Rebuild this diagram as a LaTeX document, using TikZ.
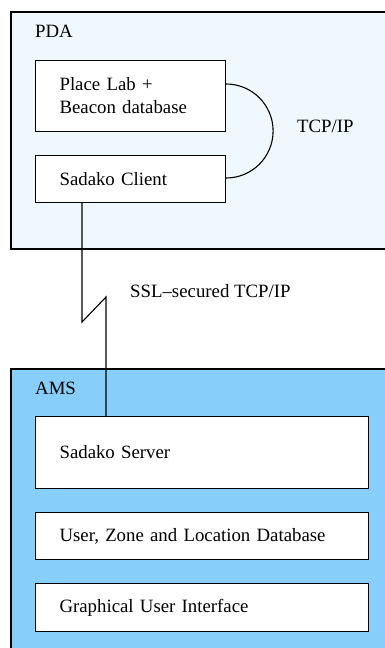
\documentclass[tikz,border=0pt]{standalone}
\usepackage{fontspec}
\setmainfont{Liberation Serif}
\definecolor{pdafill}{HTML}{F0F8FF}
\definecolor{amsfill}{HTML}{87CEFA}
\begin{document}
\begin{tikzpicture}[x=1pt,y=-1pt,
  every node/.style={font=\fontsize{18.8}{23}\selectfont},
  comp/.style={draw=black,fill=white,line width=1.1pt,anchor=north west,
    inner xsep=24pt,inner ysep=0pt,align=left},
  label/.style={anchor=base west,inner sep=0pt},
  wire/.style={draw=black,line width=1.1pt}]
\useasboundingbox (0,0) rectangle (384,648);
% containers
\draw[fill=pdafill,line width=1.1pt] (11,12) coordinate (pdaNW) rectangle (400,249) coordinate (pdaSE);
\draw[fill=amsfill,line width=1.1pt] (11,369) coordinate (amsNW) rectangle (400,660) coordinate (amsSE);
\node[label] (pda) at (35,37) {PDA};
\node[label] (ams) at (35,394) {AMS};
% components
\node[comp,minimum width=190pt,minimum height=71pt,text width=142pt] (pl) at (35,60) {Place Lab +\\Beacon database};
\node[comp,minimum width=190pt,minimum height=47pt,text width=142pt] (sc) at (35,155) {Sadako Client};
\node[comp,minimum width=333pt,minimum height=72pt,text width=285pt] (ss) at (35,416) {Sadako Server};
\node[comp,minimum width=333pt,minimum height=47pt,text width=285pt] (db) at (35,512) {User, Zone and Location Database};
\node[comp,minimum width=333pt,minimum height=48pt,text width=285pt] (gui) at (35,583) {Graphical User Interface};
% connectors
\draw[wire] ([yshift=-24pt]pl.north east) coordinate (a1) arc[start angle=-90,end angle=90,radius=47];
\node[label] (tcp) at (297,132) {TCP/IP};
\coordinate (z1) at (82,322);
\coordinate (z2) at (106,297);
\draw[wire] (z1 |- sc.south) -- (z1) -- (z2) -- (z2 |- ss.north);
\node[label] (ssl) at (130,297) {SSL\textendash secured TCP/IP};
\end{tikzpicture}
\end{document}
